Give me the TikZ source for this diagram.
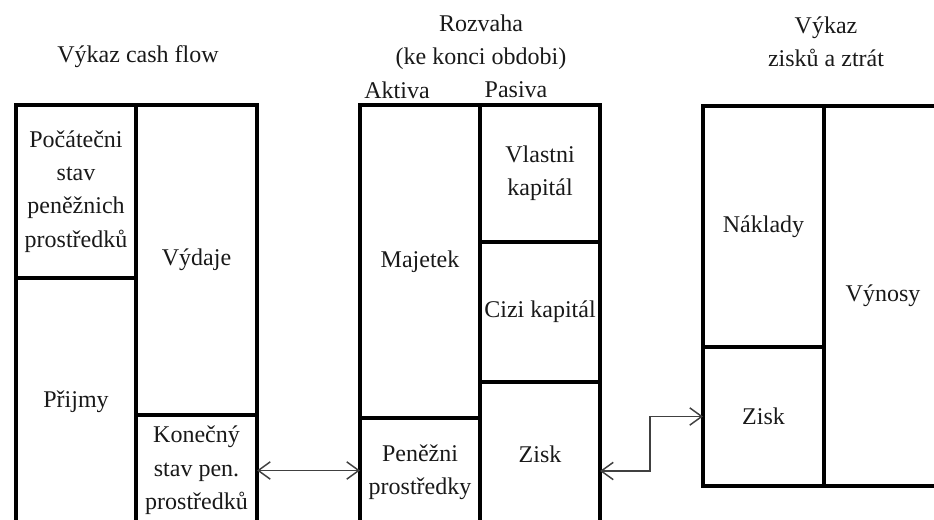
\documentclass[tikz,border=0pt]{standalone}
\usepackage{fontspec}
\setmainfont{Liberation Serif}
\usetikzlibrary{arrows.meta}

\begin{document}
\begin{tikzpicture}[x=0.75pt,y=-0.75pt,
        every node/.style={font=\fontsize{18}{25}\selectfont, text=black!90},
        cell/.style={draw, line width=2.4pt, rectangle, anchor=north west, inner sep=2pt, outer sep=0pt, align=center},
        title/.style={align=center},
        link/.style={{Straight Barb[length=9pt,width=13pt]}-{Straight Barb[length=9pt,width=13pt]}, line width=1.1pt, draw=black!75}]
                \useasboundingbox (0,0) rectangle (934,520);
                \clip (0,0) rectangle (934,520);
                
                % cash flow
                \node[title] (cft) at (138,57) {Výkaz cash flow};
                \node[cell, minimum width=90pt, minimum height=129.75pt] (poc) at (16,105) {Počátečni\\stav\\peněžnich\\prostředků};
                \node[cell, minimum width=90pt, minimum height=186pt] (pri) at (16,278) {Přijmy};
                \node[cell, minimum width=90.75pt, minimum height=232.5pt] (vyd) at (136,105) {Výdaje};
                \node[cell, minimum width=90.75pt, minimum height=83.25pt] (kon) at (136,415) {Konečný\\stav pen.\\prostředků};
                
                % rozvaha
                \node[title] (rzt) at (481,42) {Rozvaha\\(ke konci obdobi)};
                \node (akt) at (397,90) {Aktiva};
                \node (pas) at (516,90) {Pasiva};
                \node[cell, minimum width=90pt, minimum height=234.75pt] (maj) at (360,105) {Majetek};
                \node[cell, minimum width=90pt, minimum height=81pt] (pen) at (360,418) {Peněžni\\prostředky};
                \node[cell, minimum width=90pt, minimum height=102.75pt] (vk) at (480,105) {Vlastni\\kapitál};
                \node[cell, minimum width=90pt, minimum height=105pt] (ck) at (480,242) {Cizi kapitál};
                \node[cell, minimum width=90pt, minimum height=108pt] (zi) at (480,382) {Zisk};
                
                % vykaz zisku a ztrat
                \node[title] (vzt) at (826,42) {Výkaz\\zisků a ztrát};
                \node[cell, minimum width=90.75pt, minimum height=180.75pt] (nak) at (703,106) {Náklady};
                \node[cell, minimum width=90.75pt, minimum height=104.25pt] (zi2) at (703,347) {Zisk};
                \node[cell, minimum width=88.5pt, minimum height=285pt] (vyn) at (824,106) {Výnosy};
                
                \draw[link] (kon.east) -- (kon.east -| pen.west);
                \draw[link] ([yshift=-12.75pt]zi.east) -- ++(50,0) |- (zi2.west);
            \end{tikzpicture}
\end{document}
